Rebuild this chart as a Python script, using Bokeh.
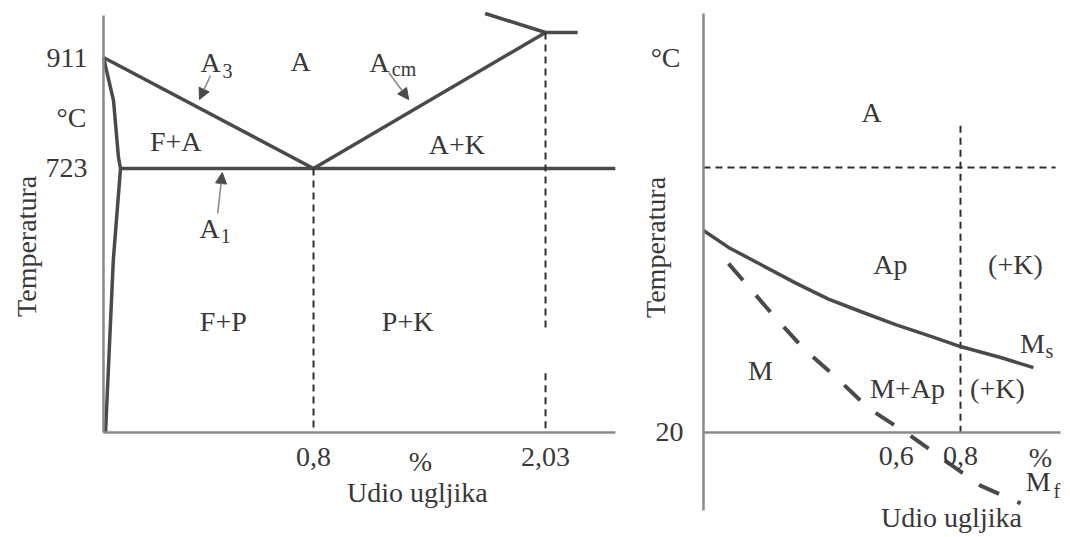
import numpy as np
from bokeh.plotting import figure
from bokeh.layouts import row
from bokeh.models import Range1d, FixedTicker, Label, Arrow, NormalHead
from bokeh.embed import file_html
from bokeh.resources import INLINE

# ---------------- left diagram: steel corner of the Fe-Fe3C diagram ----------------
# the drawing uses a schematic (piecewise) composition / temperature scale
c_break = [0.0, 0.02, 0.8, 2.03, 2.5]        # carbon, %
c_disp = [0.0, 3.32, 41.02, 86.33, 103.65]   # position on the drawing
t_break = [0, 723, 911, 1147, 1500]          # temperature, °C
t_disp = [0.0, 62.56, 88.86, 94.79, 103.66]

gpq_c = [0.0, 0.0118, 0.0176, 0.02, 0.0115, 0.0024]   # G-P-Q ferrite boundary
gpq_t = [911, 838, 742, 723, 471, 0]
a3_c = [0.0, 0.8]
a3_t = [911, 723]
acm_c = [0.8, 2.03]
acm_t = [723, 1147]
a1_c = [0.02, 2.4]
a1_t = [723, 723]
solidus_c = [1.71, 2.03]
solidus_t = [1326, 1147]
eutectic_c = [2.03, 2.2]
eutectic_t = [1147, 1147]
guide_c = [[0.8, 0.8], [2.03, 2.03], [2.03, 2.03]]
guide_t = [[723, 0], [1147, 279], [162, 0]]

left_x_ticks = [0.8, 2.03]
left_x_labels = ["0,8", "2,03"]
left_y_ticks = [723, 911]
left_y_labels = ["723", "911"]

# ---------------- right diagram: martensite start / finish ----------------
ms_c = [0.0, 0.078, 0.184, 0.286, 0.389, 0.495, 0.598, 0.701, 0.8, 0.925, 1.027]
ms_t = [556, 511, 463, 417, 374, 339, 306, 277, 248, 219, 192]
mf_c = [0.078, 0.218, 0.311, 0.417, 0.514, 0.635, 0.738, 0.862, 0.987]
mf_t = [468, 330, 243, 163, 84, 17, -46, -121, -168]
a1_temp = 723
a1_extent = [0.0, 1.096]
eut_c = 0.8
eut_extent = [834, 20]

right_x_ticks = [0.6, 0.8]
right_x_labels = ["0,6", "0,8"]
right_y_ticks = [20]
right_y_labels = ["20"]

LINE = "#4a4a4a"
AXIS = "#8a8a8a"
TXT = "#383838"
FONT = "Liberation Serif"
FS = 28
SUB = 20


def sx(c):
    return np.interp(c, c_break, c_disp)


def sy(t):
    return np.interp(t, t_break, t_disp)


def style(p):
    p.outline_line_color = None
    p.xgrid.visible = False
    p.ygrid.visible = False
    p.background_fill_color = "white"
    p.border_fill_color = "white"
    for ax in (p.xaxis[0], p.yaxis[0]):
        ax.axis_line_color = AXIS
        ax.axis_line_width = 2.5
        ax.major_tick_line_color = None
        ax.minor_tick_line_color = None
        ax.major_label_text_font = FONT
        ax.major_label_text_font_size = f"{FS}px"
        ax.major_label_text_color = TXT


def lab(p, x, y, text, size=FS, angle=0.0):
    p.add_layout(Label(x=x, y=y, text=text, text_font=FONT,
                       text_font_size=f"{size}px", text_color=TXT,
                       text_align="center", text_baseline="middle",
                       angle=angle))


def arrow(p, x0, y0, x1, y1):
    p.add_layout(Arrow(end=NormalHead(size=11, fill_color=LINE, line_color=LINE),
                       x_start=x0, y_start=y0, x_end=x1, y_end=y1,
                       line_color="#8c8c8c", line_width=1.6))


# ---------------- left figure (frame fills the canvas, axes placed inside) ----------------
pl = figure(width=625, height=537, output_backend="svg", toolbar_location=None,
            x_range=Range1d(-20.117, 101.95), y_range=Range1d(-24.88, 102.37),
            min_border=0, min_border_left=0, min_border_right=0,
            min_border_top=0, min_border_bottom=0)
style(pl)

xt = [float(round(v, 3)) for v in sx(left_x_ticks)]
yt = [float(round(v, 3)) for v in sy(left_y_ticks)]
pl.xaxis.fixed_location = 0
pl.xaxis.bounds = (0, 100)
pl.xaxis.ticker = FixedTicker(ticks=xt)
pl.xaxis.major_label_overrides = dict(zip(xt, left_x_labels))
pl.xaxis.major_label_standoff = 9
pl.yaxis.fixed_location = 0
pl.yaxis.bounds = (0, 98.8)
pl.yaxis.ticker = FixedTicker(ticks=yt)
pl.yaxis.major_label_overrides = dict(zip(yt, left_y_labels))
pl.yaxis.major_label_standoff = 10

for cs, ts in [(gpq_c, gpq_t), (a3_c, a3_t), (acm_c, acm_t), (a1_c, a1_t),
               (solidus_c, solidus_t), (eutectic_c, eutectic_t)]:
    pl.line(sx(cs), sy(ts), line_color=LINE, line_width=3.5, line_join="round")
pl.multi_line([list(sx(c)) for c in guide_c], [list(sy(t)) for t in guide_t],
              line_color="#2e2e2e", line_width=2, line_dash="7 5")

lab(pl, -6.25, 74.6, "°C")
lab(pl, -15.0, 44.1, "Temperatura", angle=np.pi / 2)
lab(pl, 20.9, 87.7, "A")
lab(pl, 24.2, 85.6, "3", size=SUB)
lab(pl, 38.5, 87.9, "A")
lab(pl, 53.9, 87.7, "A")
lab(pl, 58.7, 86.1, "cm", size=SUB)
lab(pl, 14.1, 69.0, "F+A")
lab(pl, 69.0, 68.3, "A+K")
lab(pl, 20.7, 48.3, "A")
lab(pl, 23.9, 46.5, "1", size=SUB)
lab(pl, 23.4, 26.3, "F+P")
lab(pl, 59.4, 26.3, "P+K")
lab(pl, 61.9, -6.9, "%")
lab(pl, 61.3, -14.2, "Udio ugljika")

arrow(pl, 20.9, 84.6, 18.75, 78.9)
arrow(pl, 55.7, 85.3, 59.6, 78.9)
arrow(pl, 22.3, 51.9, 23.2, 61.6)

# ---------------- right figure ----------------
pr = figure(width=445, height=537, output_backend="svg", toolbar_location=None,
            x_range=Range1d(-0.2428, 1.1424), y_range=Range1d(-258.6, 1166.1),
            min_border=0, min_border_left=0, min_border_right=0,
            min_border_top=0, min_border_bottom=0)
style(pr)
pr.xaxis.fixed_location = 20
pr.xaxis.bounds = (0, 1.111)
pr.xaxis.ticker = FixedTicker(ticks=right_x_ticks)
pr.xaxis.major_label_overrides = dict(zip(right_x_ticks, right_x_labels))
pr.xaxis.major_label_standoff = 9
pr.yaxis.fixed_location = 0
pr.yaxis.bounds = (-187, 1132)
pr.yaxis.ticker = FixedTicker(ticks=right_y_ticks)
pr.yaxis.major_label_overrides = dict(zip(right_y_ticks, right_y_labels))
pr.yaxis.major_label_standoff = 14

pr.line(a1_extent, [a1_temp, a1_temp], line_color="#2e2e2e", line_width=2, line_dash="7 5")
pr.line([eut_c, eut_c], eut_extent, line_color="#2e2e2e", line_width=2, line_dash="7 5")
pr.line(ms_c, ms_t, line_color=LINE, line_width=3.5, line_join="round")
pr.line(mf_c, mf_t, line_color=LINE, line_width=4, line_dash="22 20")

lab(pr, -0.118, 1015, "°C")
lab(pr, -0.149, 511, "Temperatura", angle=np.pi / 2)
lab(pr, 0.523, 869, "A")
lab(pr, 0.582, 466, "Ap")
lab(pr, 0.971, 466, "(+K)")
lab(pr, 0.177, 184, "M")
lab(pr, 0.635, 137, "M+Ap")
lab(pr, 0.915, 137, "(+K)")
lab(pr, 1.024, 256, "M")
lab(pr, 1.077, 235, "s", size=SUB)
lab(pr, 1.042, -110, "M")
lab(pr, 1.100, -134, "f", size=SUB)
lab(pr, 1.049, -46, "%")
lab(pr, 0.772, -206, "Udio ugljika")

layout = row(pl, pr, spacing=0)
open("out.html", "w").write(file_html(layout, INLINE))
